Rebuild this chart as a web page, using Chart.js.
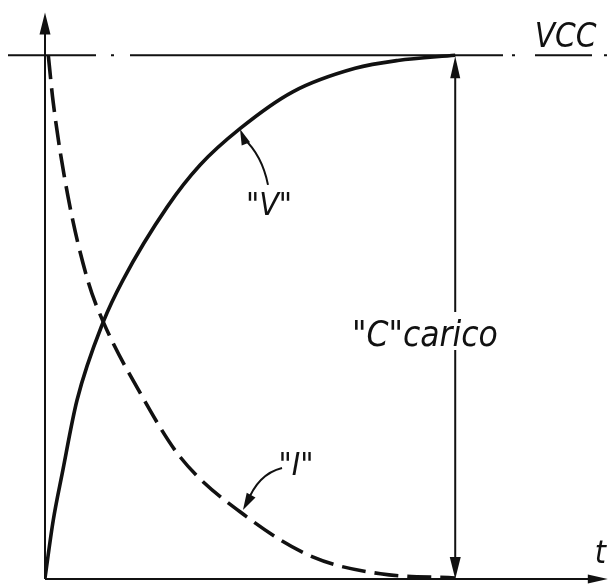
<!DOCTYPE html>
<html lang="it">
<head>
    <meta charset="UTF-8">
    <title>Carica del condensatore</title>
    <script src="https://cdn.jsdelivr.net/npm/chart.js"></script>
    <style>
        body {
            margin: 0;
            padding: 0;
            background: #ffffff;
        }

        .wrap {
            width: 610px;
            height: 586px;
        }
    </style>
</head>
<body>
    <div class="wrap">
        <canvas id="chart"></canvas>
    </div>

    <script>
        // values (time in tau-ish units, level as fraction of VCC)
        const timeV = [0, 0.1, 0.21, 0.39, 0.71, 0.95, 1.49, 1.89, 2.38, 3.02, 3.78, 4.3, 5.0];
        const voltage = [0, 0.11, 0.2, 0.34, 0.49, 0.57, 0.71, 0.79, 0.86, 0.93, 0.975, 0.99, 1.0];

        const timeI = [0.04, 0.1, 0.28, 0.52, 0.71, 1.16, 1.65, 2.46, 3.27, 4.09, 5.0];
        const current = [1.0, 0.91, 0.73, 0.57, 0.49, 0.354, 0.231, 0.117, 0.04, 0.008, 0];

        const VCC = 1;
        const T_FULL = 5.0;

        const ink = '#111111';

        function arrowHead(ctx, tipX, tipY, fromX, fromY, len, half) {
            const a = Math.atan2(tipY - fromY, tipX - fromX);
            ctx.save();
            ctx.translate(tipX, tipY);
            ctx.rotate(a);
            ctx.beginPath();
            ctx.moveTo(0, 0);
            ctx.lineTo(-len, -half);
            ctx.lineTo(-len, half);
            ctx.closePath();
            ctx.fill();
            ctx.restore();
        }

        function label(ctx, text, x, y, size, align) {
            ctx.save();
            ctx.font = 'italic ' + size + 'px "DejaVu Sans", sans-serif';
            ctx.textBaseline = 'alphabetic';
            ctx.textAlign = align;
            ctx.translate(x, y);
            ctx.scale(0.9, 1);
            ctx.fillText(text, 0, 0);
            ctx.restore();
        }

        const sketch = {
            id: 'sketch',
            beforeDatasetsDraw(chart) {
                const ctx = chart.ctx;
                const xs = chart.scales.x, ys = chart.scales.y;
                const px = v => xs.getPixelForValue(v);
                const py = v => ys.getPixelForValue(v);
                const x0 = px(0), y0 = py(0) + 1;

                ctx.save();
                ctx.strokeStyle = ink;
                ctx.fillStyle = ink;
                ctx.lineWidth = 2;

                // axes with arrows
                const topTip = py(1.082);
                ctx.beginPath();
                ctx.moveTo(x0, y0);
                ctx.lineTo(x0, topTip + 15);
                ctx.stroke();
                arrowHead(ctx, x0, topTip, x0, y0, 22, 5.5);

                const rightTip = px(6.86);
                ctx.beginPath();
                ctx.moveTo(x0, y0);
                ctx.lineTo(rightTip - 15, y0);
                ctx.stroke();
                arrowHead(ctx, rightTip, y0, x0, y0, 20, 4.5);

                // VCC dash-dot line
                const yv = py(VCC);
                ctx.lineWidth = 2.2;
                ctx.setLineDash([88, 15, 3, 16, 373, 9, 3, 20, 57, 12, 3, 20]);
                ctx.beginPath();
                ctx.moveTo(px(-0.451), yv);
                ctx.lineTo(px(6.85), yv);
                ctx.stroke();
                ctx.setLineDash([]);

                // double arrow "C" carico, interrupted by its label
                const xa = px(T_FULL);
                const textBase = py(0.444);
                ctx.lineWidth = 2;
                ctx.beginPath();
                ctx.moveTo(xa, yv + 12);
                ctx.lineTo(xa, textBase - 34);
                ctx.moveTo(xa, textBase + 4);
                ctx.lineTo(xa, y0 - 12);
                ctx.stroke();
                arrowHead(ctx, xa, yv + 1, xa, y0, 22, 5);
                arrowHead(ctx, xa, y0, xa, yv, 22, 5.5);
                ctx.restore();
            },
            afterDraw(chart) {
                const ctx = chart.ctx;
                const xs = chart.scales.x, ys = chart.scales.y;
                const px = v => xs.getPixelForValue(v);
                const py = v => ys.getPixelForValue(v);

                ctx.save();
                ctx.fillStyle = ink;
                ctx.strokeStyle = ink;

                label(ctx, 'VCC', px(5.97), py(1.016), 33, 'left');
                label(ctx, '"C"carico', px(4.63), py(0.444), 35, 'center');
                label(ctx, '"V"', px(2.73), py(0.694), 32, 'center');
                label(ctx, '"I"', px(3.06), py(0.197), 32, 'center');
                label(ctx, 't', px(6.77), py(0.029), 32, 'center');

                // leader arrows for the curve names
                ctx.lineWidth = 2;
                ctx.beginPath();
                ctx.moveTo(px(2.718), py(0.752));
                ctx.quadraticCurveTo(px(2.645), py(0.809), px(2.413), py(0.842));
                ctx.stroke();
                arrowHead(ctx, px(2.377), py(0.859), px(2.45), py(0.83), 16, 4.5);

                ctx.beginPath();
                ctx.moveTo(px(2.889), py(0.2104));
                ctx.quadraticCurveTo(px(2.596), py(0.199), px(2.462), py(0.1435));
                ctx.stroke();
                arrowHead(ctx, px(2.413), py(0.130), px(2.50), py(0.155), 17, 5);
                ctx.restore();
            }
        };

        new Chart(document.getElementById('chart'), {
            type: 'line',
            data: {
                datasets: [
                    {
                        label: '"V"',
                        data: timeV.map((t, i) => ({ x: t, y: voltage[i] })),
                        borderColor: ink,
                        borderWidth: 3.6,
                        cubicInterpolationMode: 'monotone',
                        pointRadius: 0,
                        fill: false
                    },
                    {
                        label: '"I"',
                        data: timeI.map((t, i) => ({ x: t, y: current[i] })),
                        borderColor: ink,
                        borderWidth: 3.6,
                        borderDash: [24, 9],
                        cubicInterpolationMode: 'monotone',
                        pointRadius: 0,
                        fill: false
                    }
                ]
            },
            options: {
                responsive: true,
                maintainAspectRatio: false,
                animation: false,
                layout: { padding: { left: 45, right: 3, top: 3, bottom: 8 } },
                scales: {
                    x: { type: 'linear', display: false, min: 0, max: 6.85 },
                    y: { display: false, min: 0, max: 1.1 }
                },
                plugins: {
                    legend: { display: false },
                    tooltip: { enabled: false }
                }
            },
            plugins: [sketch]
        });
    </script>
</body>
</html>
